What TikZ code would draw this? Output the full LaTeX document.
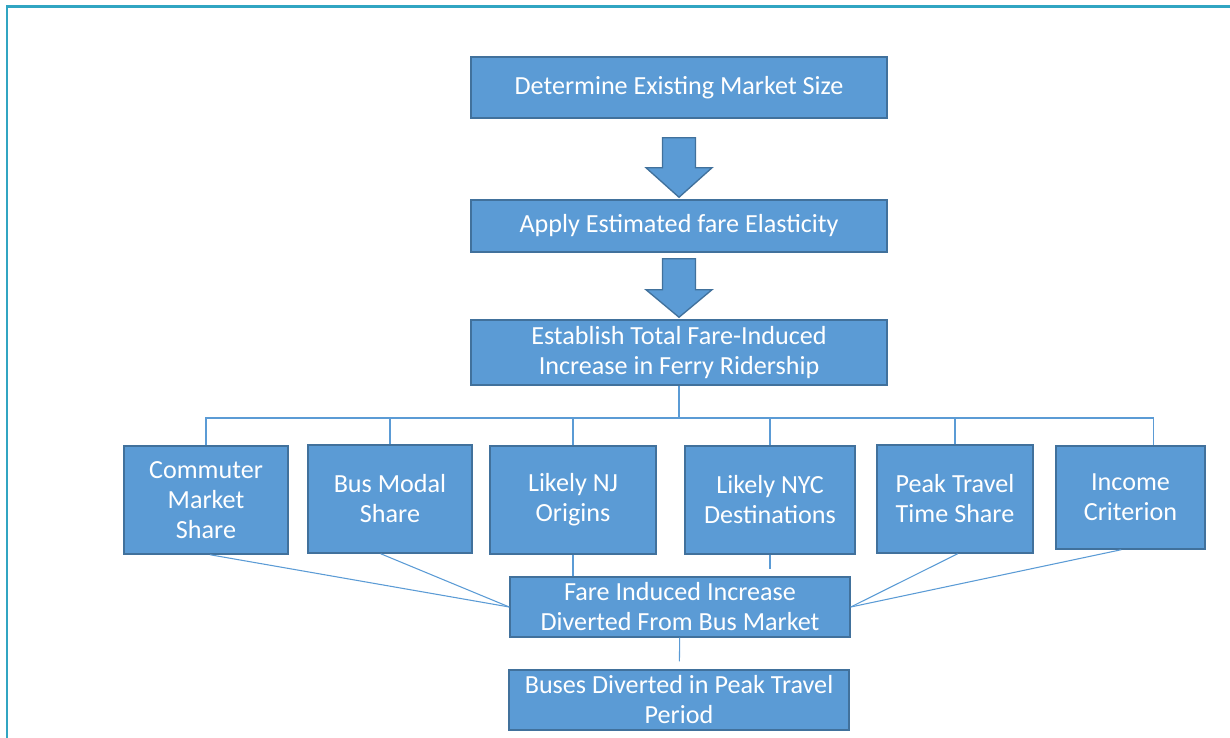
\documentclass[tikz,border=0pt]{standalone}
\usepackage{fontspec}
\setmainfont{Carlito}
\usepackage{tikz}
\usetikzlibrary{calc}
\definecolor{boxblue}{RGB}{91,155,213}
\definecolor{boxedge}{RGB}{65,113,156}
\definecolor{framecol}{RGB}{49,165,194}
\tikzstyle{stage} = [rectangle, text centered, align=center, draw=boxedge, line width=1.1pt, fill=boxblue, text=white, font=\fontsize{19.6}{22.5}\selectfont, inner sep=2pt]
\tikzstyle{link} = [draw=boxblue, line width=0.8pt]
\tikzstyle{blockarrow} = [draw=boxedge, line width=1pt, fill=boxblue, line join=miter]

\begin{document}
\begin{tikzpicture}[x=0.75pt, y=-0.75pt]
	\useasboundingbox (0,0) rectangle (1230,738);
	\draw [framecol, line width=1.6pt] (7,738) -- (7,6.5) -- (1230,6.5);

	\node (market) [stage, minimum width=312pt, minimum height=45.75pt] at (679,87.5) {Determine Existing Market Size};
	\node (elastic) [stage, minimum width=312pt, minimum height=39pt] at (679,226) {Apply Estimated fare Elasticity};
	\node (total) [stage, minimum width=312pt, minimum height=48.75pt] at (679,352.5) {Establish Total Fare-Induced\\Increase in Ferry Ridership};

	\node (commuter) [stage, minimum width=123pt, minimum height=81pt] at (206,500) {Commuter\\Market\\Share};
	\node (modal) [stage, minimum width=123pt, minimum height=81pt] at (390,499) {Bus Modal\\Share};
	\node (origins) [stage, minimum width=124.5pt, minimum height=81pt] at (573,500) {Likely NJ\\Origins};
	\node (dest) [stage, minimum width=127.5pt, minimum height=81pt] at (770,500) {Likely NYC\\Destinations};
	\node (peak) [stage, minimum width=117pt, minimum height=81pt] at (955,499) {Peak Travel\\Time Share};
	\node (income) [stage, minimum width=111.75pt, minimum height=77.25pt] at (1130.5,497.5) {Income\\Criterion};

	\node (diverted) [stage, minimum width=255pt, minimum height=45pt] at (680,607) {Fare Induced Increase\\Diverted From Bus Market};
	\node (buses) [stage, minimum width=255pt, minimum height=45pt] at (679,700) {Buses Diverted in Peak Travel\\Period};

	% block arrows between the first stages
	\draw [blockarrow] ($(market.south)+(-16.5,19)$) -- ++(33,0) -- ++(0,30) -- ++(16.5,0) -- ($(elastic.north)+(0,-2)$) -- ($(market.south)+(-33,49)$) -- ++(16.5,0) -- cycle;
	\draw [blockarrow] ($(elastic.south)+(-16.5,6)$) -- ++(33,0) -- ++(0,31) -- ++(16.5,0) -- ($(total.north)+(0,-2)$) -- ($(elastic.south)+(-33,37)$) -- ++(16.5,0) -- cycle;

	% tree to the factors
	\coordinate (bus) at (679,418);
	\draw [link] (total) -- (bus);
	\draw [link] (commuter.north) |- ([xshift=17pt]income.north |- bus) -- ([xshift=17pt]income.north);
	\foreach \f in {modal,origins,dest,peak}
		\draw [link] (\f.north) -- (\f.north |- bus);

	% factors into the diverted share
	\draw [link] ([xshift=3pt]commuter.south) -- (diverted.west);
	\draw [link] ([xshift=-7pt]modal.south) -- (diverted.west);
	\draw [link] (origins.south) -- (origins.south |- diverted.north);
	\draw [link] (dest.south) -- ++(0,14);
	\draw [link] ([xshift=2pt]peak.south) -- (diverted.east);
	\draw [link] ([xshift=-7pt]income.south) -- (diverted.east);
	\draw [link, shorten >=6pt] (diverted) -- (buses);
\end{tikzpicture}
\end{document}
